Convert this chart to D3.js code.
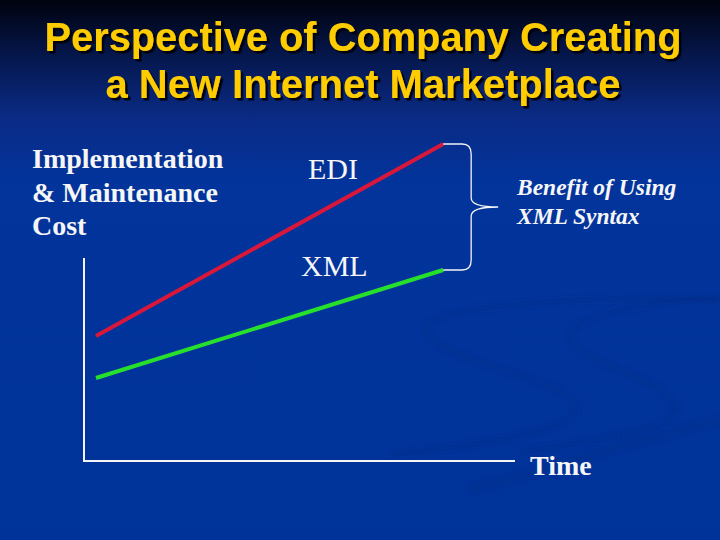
<!DOCTYPE html>
<html>
<head>
<meta charset="utf-8">
<script src="https://cdn.jsdelivr.net/npm/d3@7"></script>
<style>
  html, body { margin: 0; padding: 0; background: #003399; }
  svg { display: block; }
</style>
</head>
<body>
<div id="chart"></div>
<script>
// slide text
const titleLines = ["Perspective of Company Creating", "a New Internet Marketplace"];
const yAxisLabel = ["Implementation", "& Maintenance", "Cost"];
const xAxisLabel = "Time";
const braceLabel = ["Benefit of Using", "XML Syntax"];

// series (time units, cost units) - straight lines
const series = [
    { name: "EDI", color: "#d8173a", points: [{ t: 1, cost: 62.5 }, { t: 30, cost: 158.5 }] },
    { name: "XML", color: "#27e02c", points: [{ t: 1, cost: 41.5 }, { t: 30, cost: 95.5 }] }
];
const axisExtentT = [0, 36];
const axisExtentCost = [0, 101.5];

const W = 720, H = 540;

const svg = d3.select("#chart").append("svg")
    .attr("width", W)
    .attr("height", H);

const defs = svg.append("defs");
const bg = defs.append("linearGradient")
    .attr("id", "bg")
    .attr("x1", 0).attr("y1", 0).attr("x2", 0).attr("y2", 1);
[
    [0, "#00020e"], [0.1, "#05164a"], [0.22, "#0a2b86"], [0.34, "#02349c"], [1, "#00339a"]
].forEach(([o, c]) => bg.append("stop").attr("offset", o).attr("stop-color", c));

defs.append("filter").attr("id", "soft")
    .append("feGaussianBlur").attr("stdDeviation", 2.5);

defs.append("filter").attr("id", "shadow")
    .attr("x", "-5%").attr("y", "-20%").attr("width", "110%").attr("height", "140%")
    .append("feDropShadow")
    .attr("dx", 2.5).attr("dy", 2.5).attr("stdDeviation", 0.4)
    .attr("flood-color", "#000010").attr("flood-opacity", 1);

svg.append("rect")
    .attr("width", W).attr("height", H)
    .attr("fill", "url(#bg)");

// faint background swooshes
const swoosh = svg.append("g")
    .attr("fill", "none")
    .attr("stroke", "#002a80")
    .attr("stroke-opacity", 0.35)
    .attr("filter", "url(#soft)");
swoosh.append("path")
    .attr("stroke-width", 6)
    .attr("d", "M720,300 C600,295 420,305 425,330 C432,360 560,375 575,405 C585,430 480,445 390,455");
swoosh.append("path")
    .attr("stroke-width", 6)
    .attr("d", "M720,298 C660,300 560,315 570,340 C582,365 660,375 675,405 C685,430 600,440 520,452");
swoosh.append("path")
    .attr("stroke-width", 8)
    .attr("d", "M720,420 C640,440 560,465 470,490");

// title (single text per line, shadow via filter)
const titleWidths = [637, 515];
svg.append("g")
    .attr("font-family", "'Liberation Sans', Arial, sans-serif")
    .attr("font-weight", "bold")
    .attr("font-size", 41)
    .attr("text-anchor", "middle")
    .attr("fill", "#ffcc00")
    .attr("filter", "url(#shadow)")
    .selectAll("text")
    .data(titleLines)
    .join("text")
    .attr("x", 363)
    .attr("y", (d, i) => 51 + i * 47)
    .attr("textLength", (d, i) => titleWidths[i])
    .attr("lengthAdjust", "spacingAndGlyphs")
    .text(d => d);

// scales
const x = d3.scaleLinear().domain(axisExtentT).range([84, 515]);
const y = d3.scaleLinear().domain([0, 160]).range([461, 141]);

// axes (plain L-shaped lines, no ticks)
svg.append("path")
    .attr("fill", "none")
    .attr("stroke", "#f4f4f4")
    .attr("stroke-width", 2)
    .attr("d", d3.line()([
        [x(axisExtentT[0]), y(axisExtentCost[1])],
        [x(axisExtentT[0]), y(axisExtentCost[0])],
        [x(axisExtentT[1]), y(axisExtentCost[0])]
    ]));

const line = d3.line()
    .x(d => x(d.t))
    .y(d => y(d.cost));

svg.selectAll(".series")
    .data(series)
    .join("path")
    .attr("class", "series")
    .attr("fill", "none")
    .attr("stroke", d => d.color)
    .attr("stroke-width", 4)
    .attr("d", d => line(d.points));

// series labels
const serif = "'Liberation Serif', 'Times New Roman', serif";
svg.selectAll(".slabel")
    .data(series)
    .join("text")
    .attr("class", "slabel")
    .attr("font-family", serif)
    .attr("font-size", 30)
    .attr("fill", "#f6f6f6")
    .attr("x", (d, i) => [308, 301][i])
    .attr("y", (d, i) => [179, 276][i])
    .text(d => d.name);

// brace between the two line ends
const ediEnd = series[0].points[1], xmlEnd = series[1].points[1];
const bx = x(ediEnd.t), y0 = y(ediEnd.cost), y1 = y(xmlEnd.cost);
const ym = (y0 + y1) / 2;
const bp = d3.path();
bp.moveTo(bx, y0);
bp.lineTo(bx + 19, y0);
bp.quadraticCurveTo(bx + 28, y0, bx + 28, y0 + 10);
bp.lineTo(bx + 28, ym - 9);
bp.quadraticCurveTo(bx + 28, ym, bx + 55, ym);
bp.quadraticCurveTo(bx + 28, ym, bx + 28, ym + 9);
bp.lineTo(bx + 28, y1 - 10);
bp.quadraticCurveTo(bx + 28, y1, bx + 19, y1);
bp.lineTo(bx, y1);
svg.append("path")
    .attr("fill", "none")
    .attr("stroke", "#f4f4f4")
    .attr("stroke-width", 1.3)
    .attr("d", bp.toString());

svg.selectAll(".blabel")
    .data(braceLabel)
    .join("text")
    .attr("class", "blabel")
    .attr("font-family", serif)
    .attr("font-weight", "bold")
    .attr("font-style", "italic")
    .attr("font-size", 23.5)
    .attr("fill", "#f6f6f6")
    .attr("x", 517)
    .attr("y", (d, i) => 195 + i * 29)
    .text(d => d);

// axis titles
svg.selectAll(".ylabel")
    .data(yAxisLabel)
    .join("text")
    .attr("class", "ylabel")
    .attr("font-family", serif)
    .attr("font-weight", "bold")
    .attr("font-size", 28)
    .attr("fill", "#f6f6f6")
    .attr("x", 32)
    .attr("y", (d, i) => 168 + i * 33.5)
    .text(d => d);

svg.append("text")
    .attr("font-family", serif)
    .attr("font-weight", "bold")
    .attr("font-size", 28)
    .attr("fill", "#f6f6f6")
    .attr("x", 530)
    .attr("y", 475)
    .text(xAxisLabel);
</script>
</body>
</html>
